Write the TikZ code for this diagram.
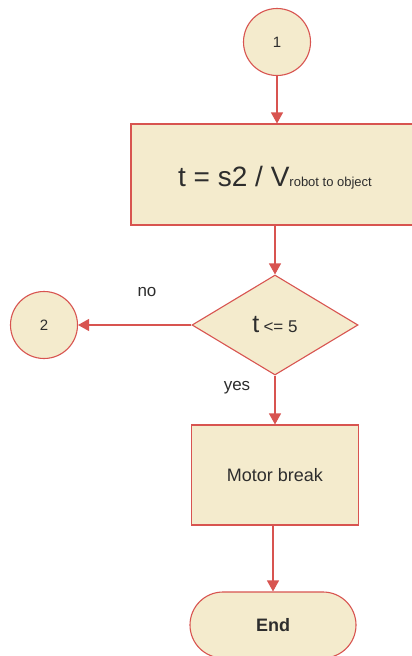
\documentclass[tikz,border=0pt]{standalone}
\usepackage{fontspec}
\setmainfont{Liberation Sans}
\usetikzlibrary{shapes.geometric,arrows.meta}
\definecolor{lnred}{RGB}{216,84,80}
\definecolor{boxfill}{RGB}{244,235,205}
\definecolor{txt}{RGB}{45,45,45}
\tikzset{
  blk/.style={draw=lnred, line width=1.1pt, fill=boxfill, text=txt, inner sep=0pt},
  conn/.style={blk, circle, minimum size=67pt, font=\fontsize{15}{17}\selectfont},
  proc/.style={blk, rectangle},
  dec/.style={blk, diamond, minimum width=166pt, minimum height=100pt},
  term/.style={blk, rectangle, rounded corners=33pt, font=\bfseries\fontsize{18}{20}\selectfont},
  arr/.style={draw=lnred, line width=1.1pt, -{Triangle[width=12pt,length=11pt]}},
  lbl/.style={text=txt, font=\fontsize{17}{19}\selectfont, inner sep=0pt}
}
\begin{document}
\begin{tikzpicture}[x=1pt,y=-1pt]
\useasboundingbox (0,0) rectangle (412,656);
\clip (0,0) rectangle (412,656);
\fill[white] (0,0) rectangle (412,656);
\node[conn] (c1) at (277,42) {1};
\node[proc, minimum width=292pt, minimum height=101pt] (b1) at (277,174.5) {};
\node[text=txt, inner sep=0pt] (t1) at (275,178) {\fontsize{28}{30}\selectfont t = s2 / V\fontsize{13}{15}\selectfont robot to object};
\node[dec] (d1) at (275,325) {\fontsize{25}{27}\selectfont t\,\fontsize{17}{19}\selectfont<= 5};
\node[conn] (c2) at (44,325) {2};
\node[proc, minimum width=167pt, minimum height=100pt, font=\fontsize{18}{20}\selectfont] (b2) at (275,475) {Motor break};
\node[term, minimum width=166pt, minimum height=66pt] (e1) at (273,625) {End};
\node[lbl] (no) at (147,292) {no};
\node[lbl] (yes) at (237,388) {yes};
\draw[arr] (c1) -- (b1);
\draw[arr] (b1.south -| d1.north) -- (d1.north);
\draw[arr] (d1.west) -- (c2.east);
\draw[arr] (d1.south) -- (b2.north);
\draw[arr] (b2.south -| e1.north) -- (e1.north);
\end{tikzpicture}
\end{document}
